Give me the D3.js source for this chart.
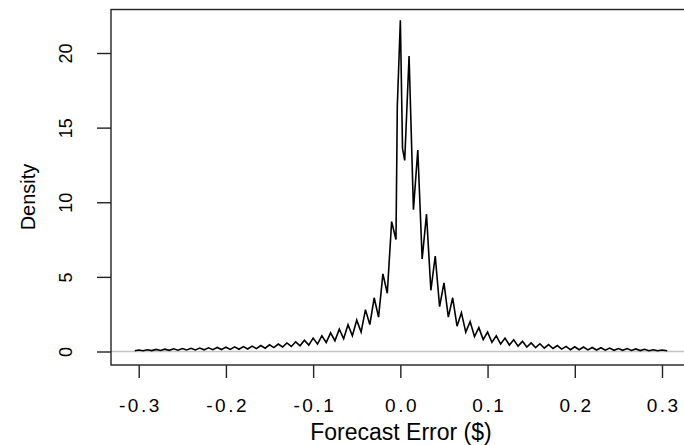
<!DOCTYPE html>
<html>
<head>
<meta charset="utf-8">
<script src="https://cdn.jsdelivr.net/npm/d3@7"></script>
<style>
  html, body { margin: 0; padding: 0; background: #fff; }
  svg { display: block; }
  text { font-family: "Liberation Sans", Arial, sans-serif; fill: #000; }
</style>
</head>
<body>
<svg id="chart" width="684" height="445"></svg>
<script>
// ---- data ----
// cents (density peaks sit at each whole cent)
const cents = [-30,-29,-28,-27,-26,-25,-24,-23,-22,-21,-20,-19,-18,-17,-16,-15,-14,-13,-12,-11,-10,-9,-8,-7,-6,-5,-4,-3,-2,-1,
                0,1,2,3,4,5,6,7,8,9,10,11,12,13,14,15,16,17,18,19,20,21,22,23,24,25,26,27,28,29,30];
// density at each cent peak
const peakValues = [0.10,0.12,0.14,0.16,0.18,0.20,0.21,0.23,0.25,0.27,0.29,0.31,0.33,0.36,0.40,0.45,0.50,0.57,0.65,0.75,0.90,1.05,1.25,1.50,1.80,2.10,2.80,3.60,5.20,8.70,
                    22.2,19.8,13.5,9.2,6.4,4.6,3.6,2.6,2.0,1.6,1.3,1.05,0.90,0.78,0.68,0.58,0.52,0.46,0.40,0.34,0.32,0.30,0.27,0.25,0.23,0.20,0.20,0.17,0.15,0.12,0.10];
// density at the trough between a cent and the next one
const troughValues = [0.05,0.06,0.07,0.08,0.09,0.10,0.10,0.11,0.12,0.13,0.14,0.15,0.17,0.19,0.22,0.26,0.30,0.34,0.38,0.43,0.50,0.60,0.72,0.85,1.05,1.30,1.80,2.30,3.90,7.50,
                      12.8,9.5,6.2,4.1,3.0,2.3,1.7,1.3,1.0,0.8,0.62,0.50,0.43,0.36,0.30,0.26,0.23,0.20,0.16,0.12,0.12,0.11,0.10,0.09,0.08,0.08,0.07,0.06,0.05,0.05];
// extra points (forecast error, density) near the centre and the two ends
const extraX = [-0.3045, -0.0035, 0.0025, 0.3060];
const extraY = [0.05, 16.4, 13.6, 0.05];

const xTicks = [-0.3,-0.2,-0.1,0.0,0.1,0.2,0.3];
const xTickLabels = ["-0.3","-0.2","-0.1","0.0","0.1","0.2","0.3"];
const yTicks = [0,5,10,15,20];
const yTickLabels = ["0","5","10","15","20"];

// ---- build the curve ----
const pts = [];
cents.forEach((c, i) => {
  pts.push([c / 100, peakValues[i]]);
  if (i < troughValues.length) pts.push([c / 100 + 0.005, troughValues[i]]);
});
extraX.forEach((x, i) => pts.push([x, extraY[i]]));
pts.sort((a, b) => a[0] - b[0]);

// ---- layout ----
const svg = d3.select("#chart");
const box = { left: 111, top: 9.5, right: 689, bottom: 365 };

const x = d3.scaleLinear().domain([-0.3, 0.3]).range([138.7, 662]);
const y = d3.scaleLinear().domain([0, 20]).range([351.5, 53]);

// zero reference line
svg.append("line")
  .attr("x1", box.left).attr("x2", box.right)
  .attr("y1", y(0)).attr("y2", y(0))
  .attr("stroke", "#c4c4c4").attr("stroke-width", 1.4);

// density curve
svg.append("path")
  .datum(pts)
  .attr("d", d3.line().x(d => x(d[0])).y(d => y(d[1])))
  .attr("fill", "none")
  .attr("stroke", "#000")
  .attr("stroke-width", 1.6)
  .attr("stroke-linejoin", "miter");

// box
svg.append("rect")
  .attr("x", box.left).attr("y", box.top)
  .attr("width", box.right - box.left).attr("height", box.bottom - box.top)
  .attr("fill", "none").attr("stroke", "#222").attr("stroke-width", 1.4);

// bottom axis
const xAxis = d3.axisBottom(x)
  .tickValues(xTicks)
  .tickSize(13)
  .tickFormat((d, i) => xTickLabels[i]);
const gx = svg.append("g")
  .attr("transform", `translate(0,${box.bottom})`)
  .call(xAxis);
gx.select(".domain").remove();
gx.selectAll(".tick line").attr("stroke", "#222").attr("stroke-width", 1.4);
gx.selectAll(".tick text")
  .attr("y", 47).attr("dy", 0)
  .style("font-size", "19px")
  .style("letter-spacing", "2.5px")
  .attr("dx", "1.2px")
  .attr("fill", "#111");

// left axis
const yAxis = d3.axisLeft(y)
  .tickValues(yTicks)
  .tickSize(14)
  .tickFormat((d, i) => yTickLabels[i]);
const gy = svg.append("g")
  .attr("transform", `translate(${box.left},0)`)
  .call(yAxis);
gy.select(".domain").remove();
gy.selectAll(".tick line").attr("stroke", "#222").attr("stroke-width", 1.4);
gy.selectAll(".tick text")
  .attr("x", 0).attr("dy", 0)
  .attr("transform", "translate(-39,0) rotate(-90)")
  .attr("text-anchor", "middle")
  .style("font-size", "18px")
  .attr("fill", "#111");

// axis titles
svg.append("text")
  .attr("x", 401).attr("y", 440)
  .attr("text-anchor", "middle")
  .style("font-size", "23px")
  .text("Forecast Error ($)");

svg.append("text")
  .attr("transform", "translate(35,197) rotate(-90)")
  .attr("text-anchor", "middle")
  .style("font-size", "20px")
  .text("Density");
</script>
</body>
</html>
